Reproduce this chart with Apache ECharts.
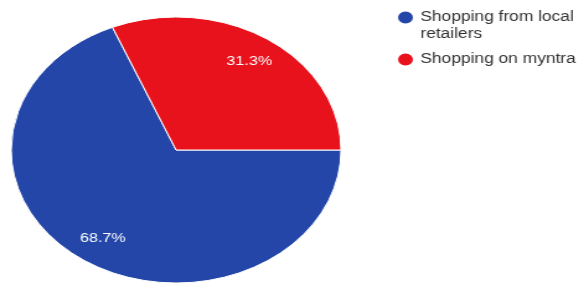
<!DOCTYPE html>
<html>
<head>
<meta charset="utf-8">
<script src="https://cdn.jsdelivr.net/npm/echarts@6/dist/echarts.min.js"></script>
<style>
  html, body { margin: 0; padding: 0; background: #fff; overflow: hidden; }
  #main {
    width: 471px;
    height: 284px;
    transform: scaleX(1.24);
    transform-origin: 0 0;
  }
</style>
</head>
<body>
<div id="main"></div>
<script>
const categories = ['Shopping from local retailers', 'Shopping on myntra']
const shares = [68.7, 31.3]
const colors = ['#2346A8', '#E8121C']

const chart = echarts.init(document.getElementById('main'), null, { renderer: 'canvas' })

const slices = categories.map((name, i) => ({
  name,
  value: shares[i],
  itemStyle: { color: colors[i] },
}))

chart.setOption({
  animation: false,
  legend: {
    orient: 'vertical',
    left: 314,
    top: -13,
    icon: 'circle',
    itemWidth: 14,
    itemHeight: 14,
    itemGap: 8,
    selectedMode: false,
    // empty first line keeps the icon level with the first text line
    formatter: (name) => (name.length > 20 ? '\n' + name.replace(/ (\S+)$/, '\n$1') : name),
    textStyle: {
      fontFamily: 'Liberation Sans, Arial, sans-serif',
      fontSize: 14,
      color: '#333',
      lineHeight: 17,
    },
  },
  series: [
    {
      type: 'pie',
      center: [142, 150],
      radius: 133,
      startAngle: 0,
      clockwise: true,
      percentPrecision: 1,
      silent: true,
      itemStyle: { borderColor: '#fff', borderWidth: 1 },
      label: { show: false },
      labelLine: { show: false },
      data: slices,
    },
    {
      // transparent ring, only carries the percent labels
      type: 'pie',
      center: [142, 150],
      radius: [74, 133],
      startAngle: 0,
      clockwise: true,
      percentPrecision: 1,
      silent: true,
      itemStyle: { color: 'rgba(0,0,0,0)' },
      label: {
        show: true,
        position: 'inside',
        formatter: '{d}%',
        color: '#fff',
        fontFamily: 'Liberation Sans, Arial, sans-serif',
        fontSize: 13,
      },
      labelLine: { show: false },
      data: categories.map((name, i) => ({ name, value: shares[i] })),
    },
  ],
})
</script>
</body>
</html>
